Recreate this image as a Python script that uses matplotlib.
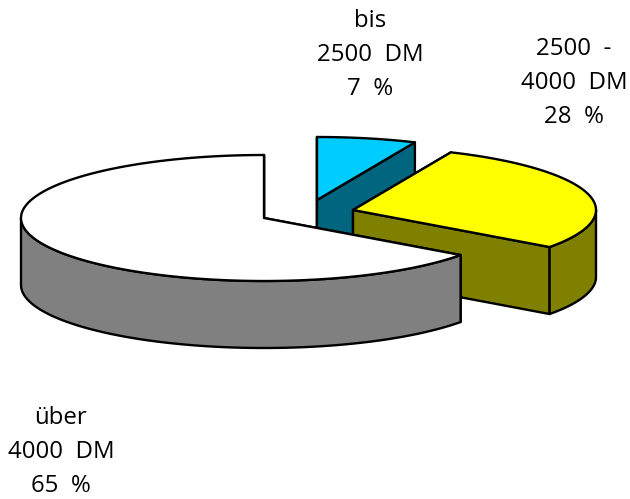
import numpy as np
import matplotlib
matplotlib.use("Agg")
import matplotlib.pyplot as plt

labels = ["bis\n2500  DM\n7  %", "2500  -\n4000  DM\n28  %", "über\n4000  DM\n65  %"]
shares = [6.6, 28.4, 65.0]
top_colors = ["#00CCFF", "#FFFF00", "#FFFFFF"]
wall_colors = ["#006680", "#808000", "#808080"]
centers = [(317, 200), (353, 210), (264, 218)]
label_pos = [(370, 55), (574, 83), (61, 452)]

rx, ry, depth = 243, 63, 67


def ell(c, t):
    return c[0] + rx * np.sin(t), c[1] - ry * np.cos(t)


def draw_slice(ax, c, a0, a1, top, wall):
    t = np.linspace(a0, a1, 200)
    x, y = ell(c, t)
    # inner walls first
    for a in (a0, a1):
        ex, ey = ell(c, a)
        ax.fill([c[0], ex, ex, c[0]], [c[1], ey, ey + depth, c[1] + depth],
                fc=wall, ec="black", lw=1.7, joinstyle="round")
    # outer wall only where the rim faces the viewer
    mask = np.cos(t) <= 0
    if mask.any():
        xo, yo = x[mask], y[mask]
        ax.fill(np.r_[xo, xo[::-1]], np.r_[yo, yo[::-1] + depth],
                fc=wall, ec="black", lw=1.7, joinstyle="round")
    ax.fill(np.r_[c[0], x], np.r_[c[1], y], fc=top, ec="black", lw=1.7, joinstyle="round")


fig = plt.figure(figsize=(6.3, 4.99), dpi=100)
ax = fig.add_axes([0, 0, 1, 1])
ax.set_xlim(0, 630)
ax.set_ylim(499, 0)
ax.axis("off")

edges = np.r_[0, np.cumsum(shares)] / sum(shares) * 2 * np.pi
for i in range(3):
    draw_slice(ax, centers[i], edges[i], edges[i + 1], top_colors[i], wall_colors[i])

for lab, p in zip(labels, label_pos):
    ax.text(p[0], p[1], lab, ha="center", va="center", fontsize=17.3, family="Open Sans",
            linespacing=1.57, color="black")

fig.savefig("out.png", dpi=100)
